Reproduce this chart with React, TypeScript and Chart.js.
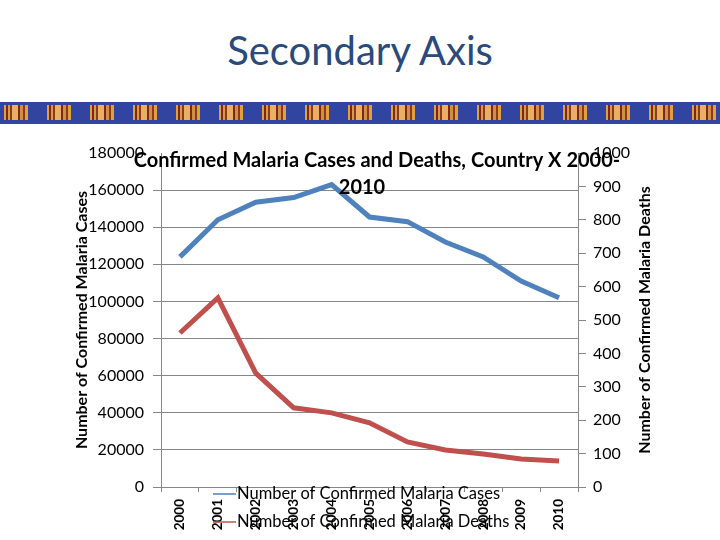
import { useEffect, useRef } from "react"
import { Chart, registerables } from "chart.js"

Chart.register(...registerables)

const years = ["2000", "2001", "2002", "2003", "2004", "2005", "2006", "2007", "2008", "2009", "2010"]
const cases = [124000, 144000, 153500, 156000, 163000, 145500, 143000, 132000, 124000, 111000, 102000]
const deaths = [461, 566, 341, 237, 222, 192, 135, 111, 99, 84, 78]
const titleLines = ["Confirmed Malaria Cases and Deaths, Country X 2000-", "2010"]
const legendLabels = ["Number of Confirmed Malaria Cases", "Number of Confirmed Malaria Deaths"]
const rightTitle = "Number of Confirmed Malaria Deaths"

const BLUE = "#4F81BD"
const RED = "#C0504D"
const GRID = "#868686"
const FONT = "Lato"

// chart title, legend and right axis title are drawn over the plot, like the original slide
const overlayPlugin = {
  id: "overlay",
  afterDraw(chart: Chart) {
    const ctx = chart.ctx
    const area = chart.chartArea
    ctx.save()
    ctx.fillStyle = "#000"
    ctx.textAlign = "center"
    ctx.textBaseline = "middle"
    ctx.font = `bold 20px ${FONT}`
    ctx.fillText(titleLines[0], 377, 31)
    ctx.fillText(titleLines[1], 362, 58)

    // right title reads bottom to top, same as the left one
    ctx.save()
    ctx.translate(645, (area.top + area.bottom) / 2)
    ctx.rotate(-Math.PI / 2)
    ctx.font = `bold 16px ${FONT}`
    ctx.fillText(rightTitle, 0, 0)
    ctx.restore()

    const colors = [BLUE, RED]
    ctx.font = `16.5px ${FONT}`
    ctx.textAlign = "left"
    legendLabels.forEach((label, i) => {
      const y = 364 + i * 28
      ctx.strokeStyle = colors[i]
      ctx.lineWidth = 1.5
      ctx.beginPath()
      ctx.moveTo(213, y)
      ctx.lineTo(236, y)
      ctx.stroke()
      ctx.fillStyle = "#000"
      ctx.fillText(label, 237, y)
    })
    ctx.restore()
  },
}

function MalariaChart() {
  const chartRef = useRef<HTMLCanvasElement>(null)
  const chartInstance = useRef<Chart | null>(null)

  useEffect(() => {
    if (!chartRef.current) return
    const ctx = chartRef.current.getContext("2d")
    if (!ctx) return
    if (chartInstance.current) chartInstance.current.destroy()

    Chart.defaults.font.family = FONT

    chartInstance.current = new Chart(ctx, {
      type: "line",
      data: {
        labels: years,
        datasets: [
          {
            label: legendLabels[0],
            data: cases,
            borderColor: BLUE,
            borderWidth: 5,
            pointRadius: 0,
            tension: 0,
            yAxisID: "y",
          },
          {
            label: legendLabels[1],
            data: deaths,
            borderColor: RED,
            borderWidth: 5,
            pointRadius: 0,
            tension: 0,
            yAxisID: "y1",
          },
        ],
      },
      options: {
        responsive: true,
        maintainAspectRatio: false,
        animation: false,
        layout: { padding: { left: 72, right: 66, top: 23, bottom: 0 } },
        plugins: {
          legend: { display: false },
          title: { display: false },
          tooltip: { enabled: false },
        },
        scales: {
          x: {
            offset: true,
            grid: {
              offset: true,
              drawOnChartArea: false,
              drawTicks: true,
              tickLength: 5,
              color: GRID,
            },
            border: { color: GRID },
            ticks: {
              minRotation: 90,
              maxRotation: 90,
              autoSkip: false,
              padding: 7,
              color: "#000",
              font: { size: 13.5, weight: "bold" },
            },
            afterFit: (s: any) => {
              s.height = 53
            },
          },
          y: {
            position: "left",
            min: 0,
            max: 180000,
            grid: {
              color: (c: any) => (c.tick && c.tick.value === 180000 ? "rgba(0,0,0,0)" : GRID),
              tickLength: 8,
            },
            border: { color: GRID },
            ticks: {
              stepSize: 20000,
              padding: 9,
              color: "#000",
              font: { size: 16 },
              callback: (v: any) => String(v),
            },
            title: {
              display: true,
              text: "Number of Confirmed Malaria Cases",
              color: "#000",
              font: { size: 16, weight: "bold" },
              padding: 0,
            },
            afterFit: (s: any) => {
              s.width = 89
            },
          },
          y1: {
            position: "right",
            min: 0,
            max: 1000,
            grid: { drawOnChartArea: false, tickLength: 8, color: GRID },
            border: { color: GRID },
            ticks: {
              stepSize: 100,
              padding: 7,
              color: "#000",
              font: { size: 16 },
              callback: (v: any) => String(v),
            },
            afterFit: (s: any) => {
              s.width = 76
            },
          },
        },
      },
      plugins: [overlayPlugin],
    })

    return () => {
      if (chartInstance.current) {
        chartInstance.current.destroy()
        chartInstance.current = null
      }
    }
  }, [])

  return (
    <div style={{ position: "absolute", left: 0, top: 130, width: 720, height: 410 }}>
      <canvas ref={chartRef} />
    </div>
  )
}

export default function App() {
  return (
    <div style={{ position: "absolute", left: 0, top: 0, width: 720, height: 540, background: "#fff", overflow: "hidden" }}>
      <div
        style={{
          position: "absolute",
          left: 0,
          top: 24,
          width: 720,
          textAlign: "center",
          fontFamily: FONT,
          fontSize: 40,
          lineHeight: "52px",
          color: "#2A4A7C",
        }}
      >
        Secondary Axis
      </div>
      <div style={{ position: "absolute", left: 0, top: 102, width: 720, height: 22, background: "#3145A0" }}>
        <div
          style={{
            position: "absolute",
            left: 4,
            right: 0,
            top: 3,
            height: 15,
            background:
              "repeating-linear-gradient(90deg, #e0a040 0 2px, #7a2a18 2px 4px, #d89a48 4px 6px, #8a3a20 6px 8px, #e8b060 8px 14px, #7a2a18 14px 16px, #d09040 16px 19px, #8a3a20 19px 21px, #e0a040 21px 24px, rgba(0,0,0,0) 24px 43px)",
          }}
        />
      </div>
      <MalariaChart />
    </div>
  )
}
